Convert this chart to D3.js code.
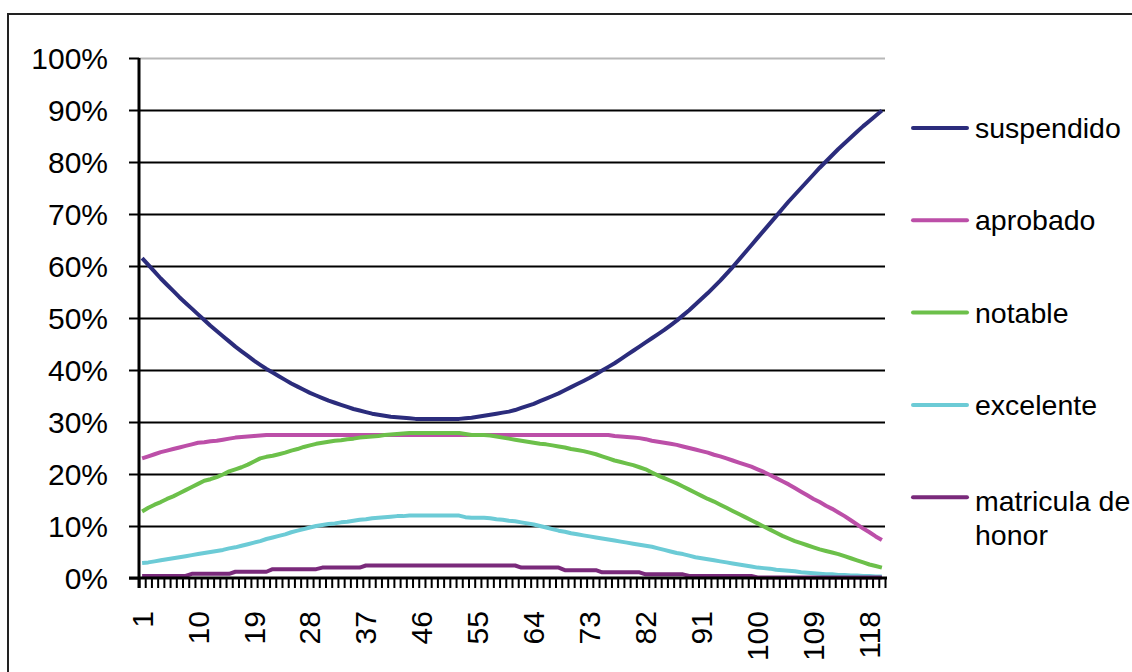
<!DOCTYPE html>
<html>
<head>
<meta charset="utf-8">
<script src="https://cdn.jsdelivr.net/npm/d3@7"></script>
<style>
  body { margin: 0; background: #fff; }
  svg { display: block; }
  text { font-family: "Liberation Sans", Arial, sans-serif; fill: #000; }
</style>
</head>
<body>
<svg id="chart" width="1132" height="672"></svg>
<script>
const categories = d3.range(1, 121);
const xTickLabels = [1, 10, 19, 28, 37, 46, 55, 64, 73, 82, 91, 100, 109, 118];
const yTickValues = [0, 10, 20, 30, 40, 50, 60, 70, 80, 90, 100];

const suspendido = [
  61.5, 60.2, 58.9, 57.6, 56.4, 55.2, 54.0, 52.9, 51.8, 50.7,
  49.6, 48.5, 47.5, 46.5, 45.5, 44.5, 43.6, 42.7, 41.8, 41.0,
  40.2, 39.5, 38.8, 38.1, 37.4, 36.8, 36.2, 35.6, 35.1, 34.6,
  34.1, 33.7, 33.3, 32.9, 32.5, 32.2, 31.9, 31.6, 31.4, 31.2,
  31.0, 30.9, 30.8, 30.7, 30.6, 30.6, 30.6, 30.6, 30.6, 30.6,
  30.6, 30.6, 30.7, 30.8, 31.0, 31.2, 31.4, 31.6, 31.8, 32.0,
  32.3, 32.7, 33.1, 33.5, 34.0, 34.5, 35.0, 35.5, 36.1, 36.7,
  37.3, 37.9, 38.5, 39.2, 39.9, 40.6, 41.3, 42.1, 42.9, 43.7,
  44.5, 45.3, 46.1, 46.9, 47.7, 48.6, 49.5, 50.5, 51.5, 52.6,
  53.7, 54.8, 56.0, 57.2, 58.5, 59.8, 61.2, 62.6, 64.0, 65.4,
  66.8, 68.2, 69.6, 71.0, 72.4, 73.7, 75.0, 76.3, 77.6, 78.9,
  80.1, 81.3, 82.5, 83.6, 84.7, 85.8, 86.9, 87.9, 88.9, 89.9
];
const aprobado = [
  23.0, 23.4, 23.8, 24.2, 24.5, 24.8, 25.1, 25.4, 25.7, 26.0,
  26.1, 26.3, 26.4, 26.6, 26.8, 27.0, 27.1, 27.2, 27.3, 27.4,
  27.5, 27.5, 27.5, 27.5, 27.5, 27.5, 27.5, 27.5, 27.5, 27.5,
  27.5, 27.5, 27.5, 27.5, 27.5, 27.5, 27.5, 27.5, 27.5, 27.5,
  27.5, 27.5, 27.5, 27.5, 27.5, 27.5, 27.5, 27.5, 27.5, 27.5,
  27.5, 27.5, 27.5, 27.5, 27.5, 27.5, 27.5, 27.5, 27.5, 27.5,
  27.5, 27.5, 27.5, 27.5, 27.5, 27.5, 27.5, 27.5, 27.5, 27.5,
  27.5, 27.5, 27.5, 27.5, 27.5, 27.5, 27.3, 27.2, 27.1, 27.0,
  26.9, 26.7, 26.4, 26.2, 26.0, 25.8, 25.6, 25.3, 25.0, 24.7,
  24.4, 24.1, 23.7, 23.4, 23.0, 22.6, 22.2, 21.8, 21.4, 20.9,
  20.4, 19.8, 19.2, 18.6, 18.0, 17.3, 16.6, 15.9, 15.2, 14.6,
  13.9, 13.3, 12.6, 11.9, 11.1, 10.3, 9.5, 8.8, 8.0, 7.3
];
const notable = [
  12.8, 13.5, 14.1, 14.6, 15.2, 15.7, 16.3, 16.9, 17.5, 18.1,
  18.7, 19.0, 19.4, 19.9, 20.5, 20.9, 21.3, 21.8, 22.4, 23.0,
  23.3, 23.5, 23.8, 24.1, 24.5, 24.8, 25.2, 25.5, 25.8, 26.0,
  26.2, 26.4, 26.5, 26.7, 26.8, 27.0, 27.1, 27.2, 27.3, 27.5,
  27.6, 27.7, 27.8, 27.9, 27.9, 27.9, 27.9, 27.9, 27.9, 27.9,
  27.9, 27.9, 27.7, 27.5, 27.5, 27.5, 27.4, 27.2, 27.0, 26.8,
  26.6, 26.4, 26.2, 26.0, 25.8, 25.7, 25.5, 25.3, 25.1, 24.8,
  24.6, 24.4, 24.1, 23.8, 23.4, 23.0, 22.6, 22.3, 22.0, 21.7,
  21.3, 20.9, 20.3, 19.7, 19.2, 18.7, 18.2, 17.6, 17.0, 16.4,
  15.8, 15.2, 14.7, 14.1, 13.5, 12.9, 12.3, 11.7, 11.1, 10.5,
  9.9, 9.3, 8.7, 8.1, 7.6, 7.1, 6.7, 6.3, 5.9, 5.5,
  5.2, 4.9, 4.6, 4.2, 3.8, 3.4, 3.0, 2.6, 2.3, 2.0
];
const excelente = [
  2.9, 3.0, 3.2, 3.4, 3.6, 3.8, 4.0, 4.2, 4.4, 4.6,
  4.8, 5.0, 5.2, 5.4, 5.7, 5.9, 6.2, 6.5, 6.8, 7.1,
  7.5, 7.8, 8.1, 8.4, 8.8, 9.1, 9.4, 9.7, 10.0, 10.2,
  10.4, 10.5, 10.7, 10.8, 11.0, 11.2, 11.3, 11.5, 11.6, 11.7,
  11.8, 11.9, 11.9, 12.0, 12.0, 12.0, 12.0, 12.0, 12.0, 12.0,
  12.0, 12.0, 11.7, 11.6, 11.6, 11.6, 11.5, 11.3, 11.2, 11.0,
  10.9, 10.7, 10.5, 10.3, 10.0, 9.7, 9.4, 9.1, 8.9, 8.6,
  8.4, 8.2, 8.0, 7.8, 7.6, 7.4, 7.2, 7.0, 6.8, 6.6,
  6.4, 6.2, 6.0, 5.7, 5.4, 5.1, 4.8, 4.6, 4.3, 4.0,
  3.8, 3.6, 3.4, 3.2, 3.0, 2.8, 2.6, 2.4, 2.2, 2.0,
  1.9, 1.8, 1.6, 1.5, 1.4, 1.3, 1.1, 1.0, 0.9, 0.8,
  0.7, 0.7, 0.6, 0.6, 0.5, 0.5, 0.4, 0.4, 0.3, 0.3
];
const matricula = [
  0.4, 0.4, 0.4, 0.4, 0.4, 0.4, 0.4, 0.4, 0.8, 0.8,
  0.8, 0.8, 0.8, 0.8, 0.8, 1.2, 1.2, 1.2, 1.2, 1.2,
  1.2, 1.7, 1.7, 1.7, 1.7, 1.7, 1.7, 1.7, 1.7, 2.0,
  2.0, 2.0, 2.0, 2.0, 2.0, 2.0, 2.4, 2.4, 2.4, 2.4,
  2.4, 2.4, 2.4, 2.4, 2.4, 2.4, 2.4, 2.4, 2.4, 2.4,
  2.4, 2.4, 2.4, 2.4, 2.4, 2.4, 2.4, 2.4, 2.4, 2.4,
  2.4, 2.0, 2.0, 2.0, 2.0, 2.0, 2.0, 2.0, 1.5, 1.5,
  1.5, 1.5, 1.5, 1.5, 1.1, 1.1, 1.1, 1.1, 1.1, 1.1,
  1.1, 0.7, 0.7, 0.7, 0.7, 0.7, 0.7, 0.7, 0.4, 0.4,
  0.4, 0.4, 0.4, 0.4, 0.4, 0.4, 0.4, 0.4, 0.4, 0.1,
  0.1, 0.1, 0.1, 0.1, 0.1, 0.1, 0.1, 0.1, 0.1, 0.1,
  0.1, 0.1, 0.1, 0.1, 0.1, 0.1, 0.1, 0.1, 0.1, 0.1
];

const seriesNames = ["suspendido", "aprobado", "notable", "excelente", "matricula de honor"];
const seriesValues = [suspendido, aprobado, notable, excelente, matricula];
const seriesColors = ["#2b2c7c", "#bc4fa8", "#6cc04a", "#6ccbd6", "#7a2a7b"];

(function () {
const svg = d3.select("#chart");
const pL = 139, pR = 885, pT = 58, pB = 578;

// outer border
svg.append("rect").attr("x", 8).attr("y", 14).attr("width", 1140).attr("height", 700)
  .attr("fill", "none").attr("stroke", "#222").attr("stroke-width", 2);

const x = d3.scaleBand().domain(categories).range([pL, pR]).padding(0);
const xb = d3.scaleLinear().domain([0, categories.length]).range([pL, pR]);
const y = d3.scaleLinear().domain([0, 100]).range([pB, pT]);
const cx = c => x(c) + x.bandwidth() / 2;

// gridlines
const grid = svg.append("g").attr("transform", `translate(${pL},0)`)
  .call(d3.axisLeft(y).tickValues(yTickValues.filter(v => v > 0)).tickSize(-(pR - pL)).tickFormat(""));
grid.select(".domain").remove();
grid.selectAll(".tick line").attr("stroke", d => d === 100 ? "#b8b8b8" : "#000").attr("stroke-width", 2);

// y axis
const yAxis = svg.append("g").attr("transform", `translate(${pL},0)`)
  .call(d3.axisLeft(y).tickValues(yTickValues).tickSize(10).tickPadding(21).tickFormat(d => d + "%"));
yAxis.select(".domain").attr("stroke", "#000").attr("stroke-width", 3).attr("d", `M0,${pT}V${pB + 10}`);
yAxis.selectAll(".tick line").attr("stroke", "#000").attr("stroke-width", 2);
yAxis.selectAll(".tick text").style("font-size", "30px").style("font-family", "'Liberation Sans', Arial, sans-serif").attr("dy", "0.35em");

// lines
const line = d3.line().x((d, i) => cx(categories[i])).y(d => y(d));
seriesValues.forEach((vals, k) => {
  svg.append("path").datum(vals).attr("d", line)
    .attr("fill", "none").attr("stroke", seriesColors[k]).attr("stroke-width", 4)
    .attr("stroke-linejoin", "round").attr("stroke-linecap", "butt");
});

// x axis ticks (between categories)
const xTicks = svg.append("g").attr("transform", `translate(0,${pB})`)
  .call(d3.axisBottom(xb).tickValues(d3.range(0, categories.length + 1)).tickSize(10).tickFormat(""));
xTicks.select(".domain").attr("stroke", "#000").attr("stroke-width", 3).attr("d", `M${pL - 10},0H${pR + 2}`);
xTicks.selectAll(".tick line").attr("stroke", "#000").attr("stroke-width", 2);

// x labels
const xAxis = svg.append("g").attr("transform", `translate(0,${pB})`)
  .call(d3.axisBottom(x).tickValues(xTickLabels).tickSize(0).tickFormat(d => String(d)));
xAxis.select(".domain").remove();
xAxis.selectAll(".tick text")
  .style("font-size", "30px").style("font-family", "'Liberation Sans', Arial, sans-serif")
  .attr("text-anchor", "end").attr("transform", "rotate(-90)")
  .attr("x", -33).attr("y", 0).attr("dy", "0.35em");

// legend
const lg = svg.append("g");
seriesNames.forEach((name, k) => {
  const ly = 128 + k * 92.3;
  lg.append("line").attr("x1", 913).attr("x2", 967).attr("y1", ly).attr("y2", ly)
    .attr("stroke", seriesColors[k]).attr("stroke-width", 4).attr("stroke-linecap", "round");
  const t = lg.append("text").attr("x", 975).style("font-size", "28.5px");
  if (name === "matricula de honor") {
    t.append("tspan").attr("x", 975).attr("y", ly + 14).text("matricula de");
    t.append("tspan").attr("x", 975).attr("y", ly + 48).text("honor");
  } else {
    t.attr("y", ly + 10).text(name);
  }
});
})();
</script>
</body>
</html>
